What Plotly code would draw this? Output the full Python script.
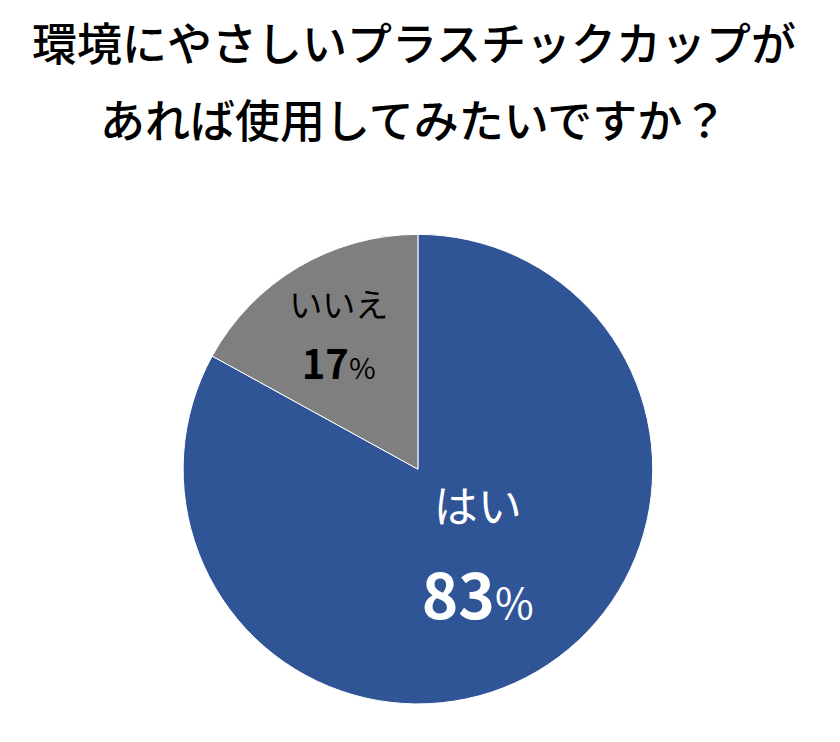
import plotly.graph_objects as go

# survey answers
labels = ["はい", "いいえ"]
values = [83, 17]
colors = ["#2F5597", "#7F7F7F"]
title_lines = ["環境にやさしいプラスチックカップが", "あれば使用してみたいですか？"]

jp = "Noto Sans CJK JP"

# trailing thin line on the big slice lifts its label block a little
texts = [
    "<span style='font-size:44px'>%{label}</span><br><br><b style='font-size:62px'>%{value}</b><span style='font-size:42px'>%</span><br><span style='font-size:4px'> </span>",
    "<span style='font-size:33px'>%{label}</span><br><br><b style='font-size:40px'>%{value}</b><span style='font-size:29px'>%</span>",
]

fig = go.Figure(go.Pie(
    labels=labels,
    values=values,
    sort=False,
    direction="clockwise",
    rotation=0,
    marker=dict(colors=colors, line=dict(color="white", width=1)),
    texttemplate=texts,
    textposition="inside",
    insidetextorientation="horizontal",
    insidetextfont=dict(family=jp, color=["white", "black"], size=[37, 24]),
    hoverinfo="label+percent",
    # page body adds an 8px offset, domain shifted to compensate
    domain=dict(x=[0.2085, 0.7675], y=[0.062, 0.695]),
    showlegend=False,
))

for i, line in enumerate(title_lines):
    fig.add_annotation(
        text=line, x=0.483, y=[0.955, 0.851][i], xref="paper", yref="paper",
        showarrow=False, font=dict(family=jp, size=45, color="black", weight=500),
        xanchor="center", yanchor="middle",
    )

fig.update_layout(
    width=840, height=742,
    margin=dict(l=0, r=0, t=0, b=0),
    paper_bgcolor="white",
    plot_bgcolor="white",
    font=dict(family=jp),
)

fig.write_html("out.html")
